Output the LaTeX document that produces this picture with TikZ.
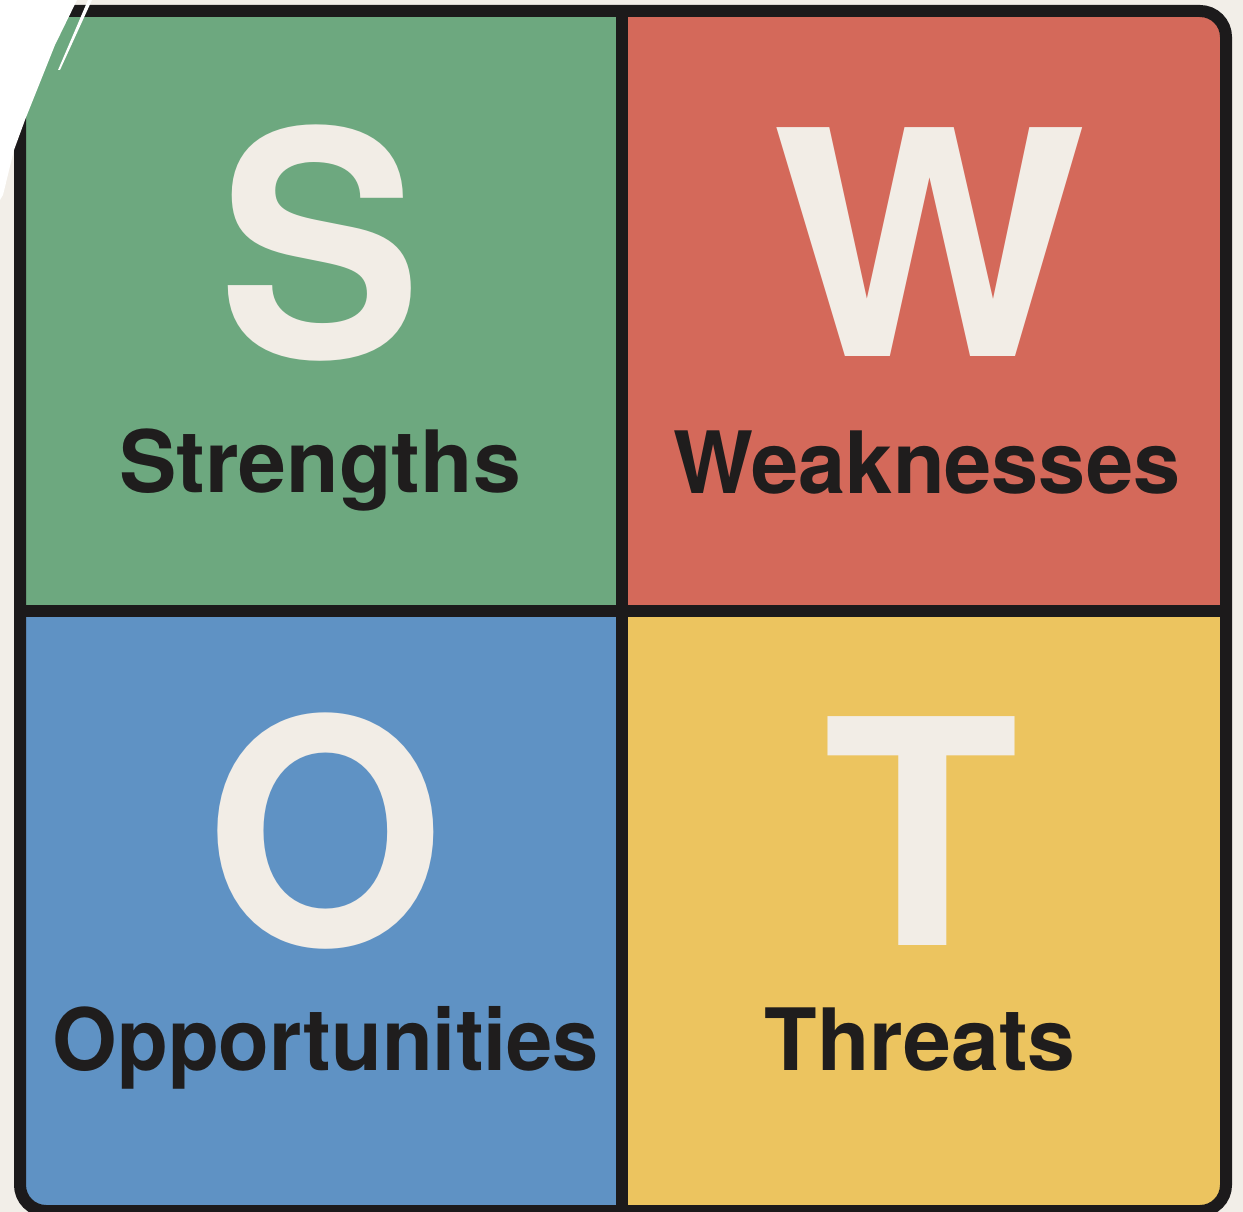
\documentclass[tikz,border=0pt]{standalone}
\usepackage{fontspec}
\setmainfont{TeX Gyre Heros}
\definecolor{cream}{HTML}{F2EEE8}
\definecolor{sgreen}{HTML}{6DA87F}
\definecolor{sred}{HTML}{D4695A}
\definecolor{sblue}{HTML}{5F92C4}
\definecolor{syellow}{HTML}{ECC45F}
\definecolor{letterc}{HTML}{F2EDE6}
\definecolor{ink}{HTML}{1F1D1D}
\definecolor{framec}{HTML}{1C1A1B}
\tikzset{
  bigletter/.style={anchor=base, inner sep=0pt, text=letterc, font=\fontsize{314}{314}\selectfont\bfseries},
  label/.style={anchor=base, inner sep=0pt, text=ink, font=\fontsize{86}{86}\selectfont\bfseries},
  frameline/.style={draw=framec, line width=12pt}
}
\begin{document}
\begin{tikzpicture}[x=1pt,y=-1pt]
\useasboundingbox (0,0) rectangle (1243,1212);
\fill[cream] (0,0) rectangle (1243,1212);
\begin{scope}
  \clip[rounded corners=26pt] (20,11) rectangle (1226,1211);
  \fill[sgreen] (20,11) rectangle (622,611);
  \fill[sred] (622,11) rectangle (1226,611);
  \fill[sblue] (20,611) rectangle (622,1211);
  \fill[syellow] (622,611) rectangle (1226,1211);
\end{scope}
\draw[frameline] (622,11) -- (622,1211);
\draw[frameline] (20,611) -- (1226,611);
\draw[frameline, rounded corners=26pt] (20,11) rectangle (1226,1211);

\node[bigletter, xscale=0.97] (S) at (320,357) {S};
\node[bigletter, xscale=1.06] (W) at (930,356) {W};
\node[bigletter, xscale=0.98] (O) at (325,945) {O};
\node[bigletter, xscale=1.02] (T) at (921,945) {T};

\node[label] (strengths) at (320,492) {Strengths};
\node[label, xscale=0.985] (weaknesses) at (927,493) {Weaknesses};
\node[label, xscale=0.966] (opportunities) at (326,1070) {Opportunities};
\node[label] (threats) at (920,1070) {Threats};

% white cut-off wedge at the top-left corner
\fill[white] (0,0) -- (77,0) -- (55,45) -- (25,120) -- (14,150) -- (3,195) -- (0,200) -- cycle;
\fill[white] (88,0) -- (92,0) -- (60,70) -- (58,70) -- cycle;
\end{tikzpicture}
\end{document}
